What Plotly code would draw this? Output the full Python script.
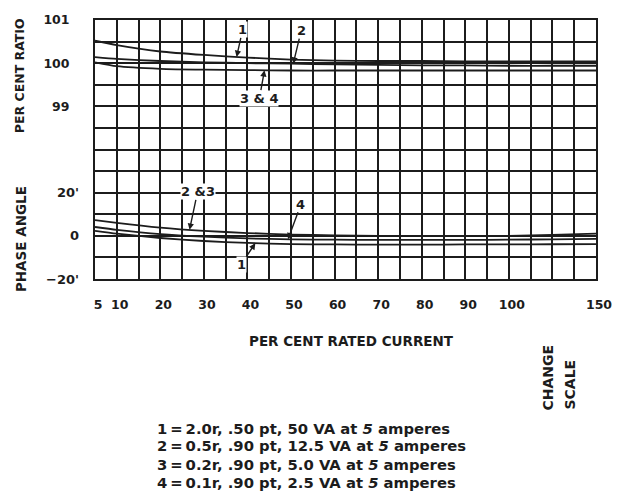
import numpy as np
import plotly.graph_objects as go

# Per cent rated current at which the curves were read
current = [5, 10, 20, 30, 40, 50, 60, 70, 80, 90, 100, 125, 150]

# Per cent ratio curves
ratio_1 = [100.52, 100.42, 100.27, 100.19, 100.13, 100.08, 100.06, 100.05, 100.05, 100.04, 100.04, 100.04, 100.04]
ratio_2 = [100.14, 100.10, 100.05, 100.02, 100.00, 99.99, 99.97, 99.96, 99.95, 99.95, 99.94, 99.94, 99.94]
ratio_34 = [100.02, 99.93, 99.87, 99.85, 99.84, 99.83, 99.83, 99.83, 99.83, 99.83, 99.83, 99.83, 99.83]

# Phase angle curves (minutes)
phase_23 = [7.3, 6.0, 3.8, 2.3, 1.3, 0.6, 0.2, 0.0, -0.1, -0.1, 0.0, 0.4, 1.0]
phase_4 = [4.1, 2.8, 0.8, -0.4, -1.2, -1.6, -1.8, -1.9, -1.9, -1.9, -1.8, -1.6, -1.4]
phase_1 = [2.3, 1.0, -1.0, -2.4, -3.3, -3.8, -4.0, -4.1, -4.1, -4.0, -4.0, -3.9, -3.8]

# Axis ticks
x_tick_values = [5, 10, 20, 30, 40, 50, 60, 70, 80, 90, 100, 150]
x_grid_values = list(range(5, 101, 5)) + [112.5, 125, 137.5, 150]
ratio_ticks = [99, 100, 101]
ratio_grid = [95 + 0.5 * i for i in range(13)]
phase_ticks = [-20, 0, 20]
phase_tick_text = ["\u221220'", "0", "20'"]

legend_lines = [
    "1\u2009=\u20092.0r, .50 pt, 50 VA at <i>5</i> amperes",
    "2\u2009=\u20090.5r, .90 pt, 12.5 VA at <i>5</i> amperes",
    "3\u2009=\u20090.2r, .90 pt, 5.0 VA at <i>5</i> amperes",
    "4\u2009=\u20090.1r, .90 pt, 2.5 VA at <i>5</i> amperes",
]

# The current scale changes above 100 per cent: 5 per cent per division
# up to 100, then 12.5 per cent per division up to 150.
SCALE_BREAKS = [5, 100, 150]
SCALE_DIVS = [0, 19, 23]


def xpos(c):
    return np.interp(c, SCALE_BREAKS, SCALE_DIVS)


INK = "#1c1c1c"
FONT = "DejaVu Sans"

fig = go.Figure()

xs = xpos(current)
for ys in (ratio_1, ratio_2, ratio_34):
    fig.add_trace(go.Scatter(x=xs, y=ys, mode="lines", yaxis="y",
                             line=dict(color=INK, width=1.8, shape="spline", smoothing=0.6),
                             showlegend=False, hoverinfo="skip"))
for ys in (phase_23, phase_4, phase_1):
    fig.add_trace(go.Scatter(x=xs, y=ys, mode="lines", yaxis="y2",
                             line=dict(color=INK, width=1.8, shape="spline", smoothing=0.6),
                             showlegend=False, hoverinfo="skip"))

x_text = [str(v) if v in x_tick_values else "" for v in x_grid_values]
y_text = [("%g" % v) if v in ratio_ticks else "" for v in ratio_grid]

fig.update_layout(
    width=624, height=494,
    margin=dict(l=95, r=26, t=15, b=215),
    paper_bgcolor="white", plot_bgcolor="white",
    font=dict(family=FONT, color=INK),
    xaxis=dict(range=[0, 23], tickmode="array", tickvals=xpos(x_grid_values), ticktext=x_text,
               showgrid=True, gridcolor=INK, gridwidth=1.7, zeroline=False,
               showline=True, linecolor=INK, linewidth=2, mirror=True,
               ticks="", ticklabelstandoff=13, ticklabelshift=3,
               tickfont=dict(family=FONT, size=12.5, color=INK, weight="bold")),
    yaxis=dict(range=[95, 101], tickmode="array", tickvals=ratio_grid, ticktext=y_text,
               showgrid=True, gridcolor=INK, gridwidth=1.7, zeroline=False,
               showline=True, linecolor=INK, linewidth=2, mirror=True,
               ticks="", ticklabelstandoff=21,
               tickfont=dict(family=FONT, size=12.5, color=INK, weight="bold")),
    yaxis2=dict(range=[-20, 100], overlaying="y", side="left", tickmode="array",
                tickvals=phase_ticks, ticktext=phase_tick_text, showgrid=False, zeroline=False,
                showline=False, ticks="", ticklabelstandoff=15,
                tickfont=dict(family=FONT, size=13, color=INK, weight="bold")),
)


def px_x(p):
    return (p - 95) / 503.0


def px_y(p):
    return (279 - p) / 264.0


label_font = dict(family=FONT, size=13, color=INK, weight="bold")

# Curve call-outs
callouts = [
    ("1", 37.5, ratio_1, "y", 6, -27),
    ("2", 50.5, ratio_2, "y", 8, -33),
    ("3 & 4", 43.9, ratio_34, "y", -5, 28),
    ("2 &3", 26.7, phase_23, "y2", 8, -38),
    ("4", 49.3, phase_4, "y2", 13, -35),
    ("1", 41.8, phase_1, "y2", -14, 21),
]
for text, c, series, yref, ax, ay in callouts:
    fig.add_annotation(x=float(xpos(c)), y=float(np.interp(c, current, series)),
                       xref="x", yref=yref, text=text, showarrow=True,
                       ax=ax, ay=ay, arrowhead=2, arrowsize=0.9, arrowwidth=1.4,
                       arrowcolor=INK, font=label_font, bgcolor="white", borderpad=0)

fig.add_annotation(x=px_x(20), y=px_y(72), xref="paper", yref="paper", text="PER CENT RATIO",
                   xanchor="center", yanchor="middle", textangle=-90, showarrow=False,
                   font=dict(family=FONT, size=12.5, color=INK, weight="bold"))
fig.add_annotation(x=px_x(20), y=px_y(238), xref="paper", yref="paper", text="PHASE ANGLE",
                   xanchor="center", yanchor="middle", textangle=-90, showarrow=False,
                   font=dict(family=FONT, size=13.5, color=INK, weight="bold"))
fig.add_annotation(x=px_x(353), y=px_y(342), xref="paper", yref="paper",
                   xanchor="center", yanchor="middle",
                   text="PER CENT RATED CURRENT", showarrow=False,
                   font=dict(family=FONT, size=13.5, color=INK, weight="bold"))
fig.add_annotation(x=px_x(550), y=px_y(415), xref="paper", yref="paper",
                   xanchor="center", yanchor="bottom",
                   text="CHANGE", textangle=-90, showarrow=False,
                   font=dict(family=FONT, size=14, color=INK, weight="bold"))
fig.add_annotation(x=px_x(572), y=px_y(414), xref="paper", yref="paper",
                   xanchor="center", yanchor="bottom",
                   text="SCALE", textangle=-90, showarrow=False,
                   font=dict(family=FONT, size=14, color=INK, weight="bold"))

# Key to the curve numbers, one line each
legend_rows_y = [431, 449, 468, 486]
for line, row_y in zip(legend_lines, legend_rows_y):
    fig.add_annotation(x=px_x(155), y=px_y(row_y), xref="paper", yref="paper",
                       xanchor="left", yanchor="middle", align="left",
                       text=line, showarrow=False,
                       font=dict(family=FONT, size=14.8, color=INK, weight="bold"))

fig.write_html("out.html")
